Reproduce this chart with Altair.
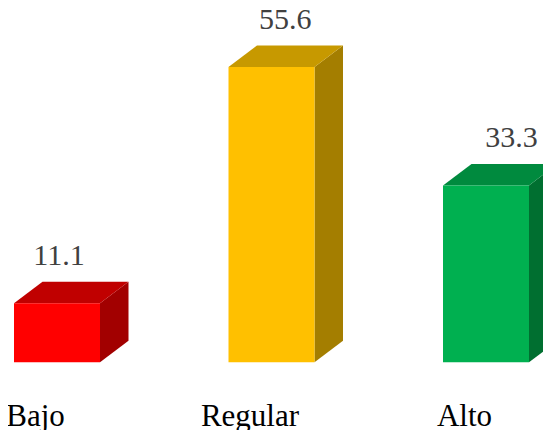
import altair as alt
import pandas as pd

# ---- data ----
categories = ["Bajo", "Regular", "Alto"]
values = [11.1, 55.6, 33.3]
front_colors = ["#FF0000", "#FFC000", "#00B050"]
top_colors = ["#C00000", "#C79900", "#008A3E"]
side_colors = ["#A20000", "#A47E00", "#006F30"]

SERIF = "Liberation Serif"

# ---- layout constants (pixels) ----
W, H = 535, 422
PX_PER_CAT = 214.5
FIRST_CENTER = 49.0
PX_PER_UNIT = 5.309
ZERO_Y = 354.2

x_dom = [-FIRST_CENTER / PX_PER_CAT, (W - FIRST_CENTER) / PX_PER_CAT]
y_dom = [(ZERO_Y - H) / PX_PER_UNIT, ZERO_Y / PX_PER_UNIT]
HW = 43.0 / PX_PER_CAT      # half width of front face
DX = 28.5 / PX_PER_CAT      # depth in x
DY = 21.5 / PX_PER_UNIT     # depth in y
CAT_LABEL_Y = (ZERO_Y - 418.0) / PX_PER_UNIT

xs = alt.Scale(domain=x_dom, nice=False, zero=False)
ys = alt.Scale(domain=y_dom, nice=False, zero=False)

bars = pd.DataFrame({
    "cat": categories,
    "i": list(range(len(categories))),
    "v": values,
    "front": front_colors,
})
bars["x"] = bars["i"] - HW
bars["x2"] = bars["i"] + HW
bars["y"] = 0.0
bars["y2"] = bars["v"]
bars["lx"] = bars["i"] + (2 + 11.75 * bars["i"]) / PX_PER_CAT
bars["cx"] = bars["i"] - 21.5 / PX_PER_CAT

top_rows, side_rows = [], []
for i, (c, v) in enumerate(zip(categories, values)):
    top_rows.append({"cat": c, "y": v, "x": i - HW, "x2": i + HW, "col": top_colors[i]})
    top_rows.append({"cat": c, "y": v + DY, "x": i - HW + DX, "x2": i + HW + DX, "col": top_colors[i]})
    side_rows.append({"cat": c, "x": i + HW, "y": 0.0, "y2": v, "col": side_colors[i]})
    side_rows.append({"cat": c, "x": i + HW + DX, "y": DY, "y2": v + DY, "col": side_colors[i]})
top_df = pd.DataFrame(top_rows)
side_df = pd.DataFrame(side_rows)

side = alt.Chart(side_df).mark_area(orient="vertical").encode(
    x=alt.X("x:Q", scale=xs, axis=None),
    y=alt.Y("y:Q", scale=ys, axis=None),
    y2="y2:Q",
    color=alt.Color("col:N", scale=None),
    detail="cat:N",
)

top = alt.Chart(top_df).mark_area(orient="horizontal").encode(
    y=alt.Y("y:Q", scale=ys, axis=None),
    x=alt.X("x:Q", scale=xs, axis=None),
    x2="x2:Q",
    color=alt.Color("col:N", scale=None),
    detail="cat:N",
)

front = alt.Chart(bars).mark_rect().encode(
    x=alt.X("x:Q", scale=xs, axis=None),
    x2="x2:Q",
    y=alt.Y("y:Q", scale=ys, axis=None),
    y2="y2:Q",
    color=alt.Color("front:N", scale=None),
)

value_labels = alt.Chart(bars).mark_text(
    font=SERIF, fontSize=30, color="#404040",
    baseline="alphabetic", align="center", dy=-38,
).encode(
    x=alt.X("lx:Q", scale=xs, axis=None),
    y=alt.Y("v:Q", scale=ys, axis=None),
    text=alt.Text("v:Q", format=".1f"),
)

cat_labels = alt.Chart(bars).mark_text(
    font=SERIF, fontSize=31, color="#000000",
    baseline="alphabetic", align="center",
).encode(
    x=alt.X("cx:Q", scale=xs, axis=None),
    y=alt.datum(CAT_LABEL_Y, type="quantitative", scale=ys),
    text="cat:N",
)

chart = alt.layer(side, top, front, value_labels, cat_labels).properties(
    width=W, height=H,
    autosize=alt.AutoSizeParams(type="none"),
    padding=0,
).configure_view(stroke=None).configure_text(font=SERIF)

chart.save("out.html", embed_options={"renderer": "svg", "actions": False})
